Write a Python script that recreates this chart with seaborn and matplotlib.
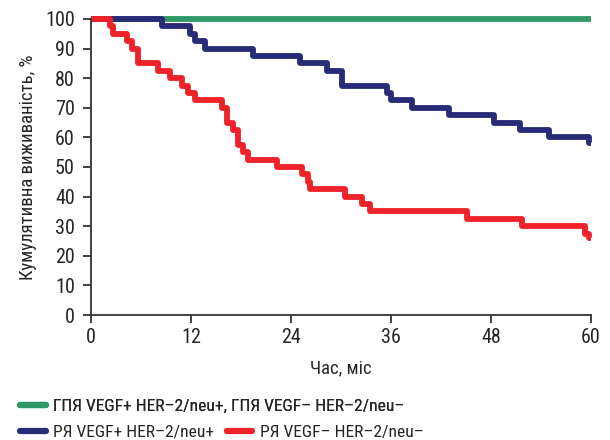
import pandas as pd
import matplotlib
matplotlib.use("Agg")
import matplotlib.pyplot as plt
from matplotlib.lines import Line2D
from matplotlib import font_manager
import seaborn as sns

# survival curves (months, %)
green_t = [0, 60]
green_s = [100, 100]

blue_t = [0, 8.5, 11.9, 12.5, 13.7, 19.5, 25.1, 28.3, 30.1, 35.5, 36.0, 38.5,
          42.9, 48.3, 51.5, 54.9, 59.8, 60]
blue_s = [100, 97.5, 95, 92.5, 90, 87.5, 85, 82.5, 77.5, 75, 72.5, 70,
          67.5, 65, 62.5, 60, 58, 58]

red_t = [0, 2.3, 2.7, 4.3, 4.9, 5.7, 8.1, 9.5, 10.9, 11.7, 12.5, 15.7, 16.3,
         17.1, 17.7, 18.3, 18.9, 22.3, 25.3, 26.1, 26.3, 30.5, 32.5, 33.5,
         45.1, 51.7, 59.3, 59.8, 60]
red_s = [100, 97.5, 95, 92.5, 90, 85, 82.5, 80, 77.5, 75, 72.5, 70, 65,
         62.5, 57.5, 55, 52.5, 50, 47.5, 45, 42.5, 40, 37.5, 35,
         32.5, 30, 27.5, 26, 26]

labels = ["ГПЯ VEGF+ HER–2/neu+, ГПЯ VEGF– HER–2/neu–",
          "РЯ VEGF+ HER–2/neu+",
          "РЯ VEGF– HER–2/neu–"]
colors = ["#2f9a68", "#272b78", "#ee2228"]
x_ticks = [0, 12, 24, 36, 48, 60]
y_ticks = list(range(0, 101, 10))

sns.set_style("ticks")
# a narrow face if one is installed
names = {f.name for f in font_manager.fontManager.ttflist}
narrow = [n for n in ["Roboto Condensed", "Liberation Sans Narrow", "Open Sans Condensed"] if n in names]
if narrow:
    plt.rcParams["font.family"] = [narrow[0], "DejaVu Sans"]
else:
    plt.rcParams["font.family"] = ["Liberation Sans", "DejaVu Sans"]

frames = []
for lab, t, s in zip(labels, [green_t, blue_t, red_t], [green_s, blue_s, red_s]):
    frames.append(pd.DataFrame({"t": t, "s": s, "group": lab}))
df = pd.concat(frames, ignore_index=True)

fig = plt.figure(figsize=(6.1, 4.4), dpi=100)
ax = fig.add_axes([0.149, 0.284, 0.82, 0.673])

sns.lineplot(data=df, x="t", y="s", hue="group", palette=dict(zip(labels, colors)),
             estimator=None, sort=False, drawstyle="steps-post", linewidth=4.2,
             legend=False, ax=ax, clip_on=False)
for ln in ax.lines:
    ln.set_solid_capstyle("butt")

ax.set_xlim(0, 60)
ax.set_ylim(0, 100)
ax.set_xticks(x_ticks)
ax.set_yticks(y_ticks)
ax.tick_params(axis="both", labelsize=14.5, length=5.5, width=1.3, color="#333333", direction="out")
ax.tick_params(axis="y", pad=6)
ax.tick_params(axis="x", pad=4)
ax.set_xlabel("Час, міс", fontsize=13.5, labelpad=9)
ax.set_ylabel("Кумулятивна виживаність, %", fontsize=13.5, labelpad=6)
sns.despine(ax=ax)
for sp in ["left", "bottom"]:
    ax.spines[sp].set_linewidth(1.3)
    ax.spines[sp].set_color("#333333")

h = [Line2D([], [], color=c, lw=4.5) for c in colors]
leg1 = fig.legend([h[0]], [labels[0]], loc="center left", bbox_to_anchor=(0.033, 0.077),
                  frameon=False, fontsize=12.6, handlelength=1.45, handletextpad=0.45,
                  borderpad=0, borderaxespad=0)
fig.legend(h[1:], labels[1:], loc="center left", bbox_to_anchor=(0.033, 0.018),
           ncol=2, frameon=False, fontsize=12.6, handlelength=1.45, handletextpad=0.45,
           columnspacing=0.7, borderpad=0, borderaxespad=0)
fig.add_artist(leg1)

fig.savefig("out.png", dpi=100)
